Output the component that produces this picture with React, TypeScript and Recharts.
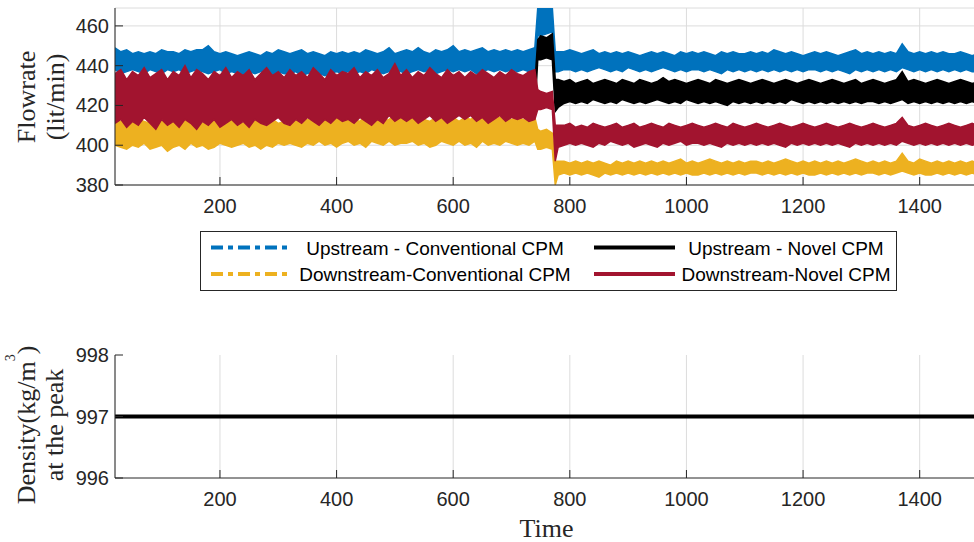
import React from 'react';
import { ComposedChart, LineChart, Line, Area, XAxis, YAxis, CartesianGrid } from 'recharts';

const time = [
  20, 30, 40, 50, 60, 70, 80, 90, 100, 110,
  120, 130, 140, 150, 160, 170, 180, 190, 200, 210,
  220, 230, 240, 250, 260, 270, 280, 290, 300, 310,
  320, 330, 340, 350, 360, 370, 380, 390, 400, 410,
  420, 430, 440, 450, 460, 470, 480, 490, 500, 510,
  520, 530, 540, 550, 560, 570, 580, 590, 600, 610,
  620, 630, 640, 650, 660, 670, 680, 690, 700, 710,
  720, 730, 740, 745, 750, 760, 770, 775, 780, 790, 800, 810,
  820, 830, 840, 850, 860, 870, 880, 890, 900, 910,
  920, 930, 940, 950, 960, 970, 980, 990, 1000, 1010,
  1020, 1030, 1040, 1050, 1060, 1070, 1080, 1090, 1100, 1110,
  1120, 1130, 1140, 1150, 1160, 1170, 1180, 1190, 1200, 1210,
  1220, 1230, 1240, 1250, 1260, 1270, 1280, 1290, 1300, 1310,
  1320, 1330, 1340, 1350, 1360, 1370, 1380, 1390, 1400, 1410,
  1420, 1430, 1440, 1450, 1460, 1470, 1480, 1490, 1500,
];

// upper / lower envelope of each noisy flowrate trace (lit/min)
const upConvHi = [
  449, 447, 448, 446, 447, 446, 447, 446, 448, 447,
  447, 446, 448, 447, 448, 448, 450, 447, 446, 447,
  446, 445, 446, 447, 446, 445, 447, 446, 448, 447,
  446, 447, 448, 446, 447, 446, 445, 447, 446, 447,
  446, 447, 446, 448, 447, 446, 447, 449, 446, 447,
  448, 447, 449, 447, 446, 448, 447, 448, 450, 447,
  448, 447, 448, 449, 447, 448, 447, 448, 447, 448,
  447, 448, 449, 469, 469, 469, 469, 447, 447, 447, 448, 447,
  446, 447, 448, 446, 447, 446, 447, 446, 447, 446,
  445, 446, 447, 446, 447, 446, 445, 447, 446, 447,
  446, 447, 446, 445, 447, 446, 447, 446, 446, 447,
  446, 447, 446, 448, 447, 446, 447, 446, 445, 446,
  447, 446, 447, 446, 445, 446, 447, 448, 446, 447,
  446, 447, 446, 447, 446, 451, 447, 446, 447, 446,
  447, 446, 447, 446, 446, 447, 446, 445, 446,
];
const upConvLo = [
  438, 436, 437, 438, 437, 436, 438, 437, 436, 438,
  437, 438, 436, 437, 438, 437, 436, 437, 438, 436,
  437, 436, 435, 437, 436, 437, 436, 435, 437, 436,
  436, 437, 435, 436, 437, 436, 435, 436, 437, 436,
  437, 436, 437, 436, 438, 437, 436, 437, 438, 437,
  436, 437, 438, 437, 438, 436, 437, 438, 437, 438,
  437, 438, 436, 437, 438, 437, 438, 437, 438, 437,
  438, 437, 438, 455, 455, 456, 457, 437, 437, 438, 438, 437,
  438, 437, 438, 439, 438, 437, 438, 437, 439, 438,
  437, 438, 437, 438, 439, 438, 437, 438, 437, 438,
  438, 437, 438, 437, 436, 438, 437, 438, 437, 438,
  437, 438, 437, 438, 437, 438, 437, 438, 437, 438,
  438, 437, 438, 437, 438, 437, 436, 438, 437, 438,
  437, 438, 437, 438, 437, 439, 438, 437, 438, 437,
  438, 437, 438, 437, 438, 437, 438, 437, 437,
];

const upNovelHi = [
  430, 428, 431, 429, 430, 428, 431, 429, 430, 428,
  429, 431, 428, 430, 429, 431, 428, 430, 429, 431,
  430, 429, 431, 428, 430, 429, 428, 431, 430, 429,
  428, 430, 429, 431, 428, 430, 431, 429, 428, 430,
  431, 429, 430, 428, 431, 429, 430, 428, 431, 429,
  430, 428, 431, 429, 430, 428, 429, 431, 430, 428,
  429, 431, 428, 430, 429, 431, 430, 428, 429, 431,
  430, 429, 431, 453, 455, 454, 456, 433, 433, 432, 433, 431,
  432, 433, 431, 432, 433, 432, 431, 433, 432, 431,
  433, 432, 431, 432, 434, 432, 433, 432, 431, 432,
  433, 432, 431, 433, 432, 431, 432, 433, 432, 431,
  432, 433, 432, 431, 432, 433, 432, 431, 432, 433,
  432, 431, 432, 433, 432, 431, 432, 433, 431, 432,
  433, 432, 431, 432, 433, 437, 432, 433, 432, 431,
  432, 433, 432, 431, 432, 433, 432, 431, 432,
];
const upNovelLo = [
  418, 420, 417, 419, 418, 420, 417, 419, 418, 420,
  419, 417, 420, 418, 419, 417, 420, 418, 419, 417,
  420, 418, 417, 419, 420, 418, 419, 417, 420, 418,
  417, 419, 420, 418, 417, 419, 418, 420, 417, 419,
  418, 420, 419, 417, 418, 420, 417, 419, 418, 420,
  419, 417, 418, 420, 419, 417, 420, 418, 419, 417,
  420, 418, 419, 417, 420, 418, 417, 419, 420, 418,
  418, 419, 417, 443, 443, 444, 443, 417, 419, 421, 422, 421,
  422, 421, 423, 422, 421, 422, 421, 423, 422, 421,
  422, 421, 422, 423, 422, 421, 422, 421, 423, 422,
  421, 422, 421, 422, 421, 420, 422, 421, 422, 421,
  422, 421, 422, 421, 422, 421, 423, 422, 421, 422,
  421, 422, 421, 422, 421, 422, 421, 422, 421, 422,
  422, 421, 422, 421, 422, 423, 421, 422, 421, 422,
  421, 422, 421, 422, 421, 422, 421, 422, 421,
];

const downConvHi = [
  413, 412, 414, 411, 413, 412, 411, 413, 412, 414,
  412, 411, 413, 412, 414, 411, 412, 413, 411, 412,
  413, 412, 411, 413, 412, 414, 412, 413, 411, 412,
  413, 412, 414, 413, 412, 414, 413, 412, 414, 413,
  414, 413, 412, 415, 413, 414, 412, 413, 415, 414,
  413, 415, 414, 413, 412, 414, 415, 413, 414, 412,
  414, 413, 415, 414, 412, 413, 414, 412, 413, 414,
  413, 412, 414, 408, 407, 408, 406, 392, 392, 392, 391, 392,
  391, 392, 391, 392, 391, 390, 392, 391, 392, 391,
  392, 391, 392, 391, 392, 391, 392, 393, 391, 392,
  391, 392, 393, 392, 391, 392, 391, 392, 391, 392,
  392, 391, 392, 391, 392, 393, 392, 391, 392, 391,
  392, 391, 392, 391, 392, 391, 392, 393, 392, 391,
  392, 391, 392, 391, 392, 396, 392, 391, 393, 392,
  391, 392, 391, 392, 391, 392, 391, 392, 391,
];
const downConvLo = [
  400, 399, 398, 400, 399, 401, 398, 399, 400, 397,
  399, 400, 398, 401, 399, 400, 398, 399, 401, 400,
  399, 400, 401, 399, 400, 398, 400, 399, 401, 400,
  401, 400, 399, 401, 400, 402, 400, 401, 399, 401,
  402, 400, 401, 399, 402, 401, 400, 402, 400, 401,
  401, 402, 400, 401, 399, 400, 402, 401, 400, 402,
  400, 401, 399, 402, 400, 401, 400, 402, 401, 400,
  401, 400, 402, 398, 398, 399, 398, 380, 385, 386, 385, 386,
  385, 386, 385, 384, 386, 385, 386, 385, 386, 385,
  386, 385, 386, 385, 386, 385, 386, 385, 386, 385,
  385, 386, 385, 386, 385, 386, 385, 386, 385, 386,
  386, 385, 386, 385, 386, 385, 386, 385, 386, 385,
  385, 386, 385, 386, 385, 386, 385, 386, 385, 386,
  386, 385, 386, 385, 386, 387, 386, 385, 386, 385,
  385, 386, 385, 386, 385, 386, 385, 386, 385,
];

const downNovelHi = [
  436, 438, 433, 437, 435, 439, 434, 436, 438, 433,
  437, 435, 440, 434, 438, 436, 433, 437, 435, 439,
  434, 437, 435, 438, 433, 436, 439, 435, 437, 434,
  438, 435, 437, 434, 439, 436, 433, 438, 435, 437,
  436, 439, 434, 437, 435, 438, 434, 436, 441, 435,
  438, 434, 437, 435, 439, 436, 434, 438, 435, 437,
  434, 437, 435, 438, 436, 434, 437, 435, 438, 436,
  435, 437, 438, 428, 427, 426, 427, 410, 410, 410, 411, 409,
  410, 409, 411, 410, 409, 410, 411, 409, 410, 411,
  409, 410, 411, 410, 409, 411, 410, 409, 410, 411,
  410, 409, 410, 411, 410, 409, 411, 410, 409, 410,
  411, 410, 409, 410, 411, 410, 409, 410, 411, 410,
  409, 410, 411, 410, 409, 410, 411, 410, 409, 410,
  411, 410, 409, 410, 411, 414, 410, 409, 410, 411,
  410, 409, 410, 411, 410, 409, 410, 411, 410,
];
const downNovelLo = [
  411, 413, 409, 412, 410, 414, 411, 408, 413, 410,
  412, 409, 413, 411, 408, 412, 410, 413, 409, 411,
  413, 410, 412, 409, 413, 411, 410, 412, 414, 411,
  410, 413, 411, 414, 412, 410, 413, 411, 414, 412,
  413, 411, 414, 412, 410, 413, 411, 415, 412, 414,
  412, 414, 411, 413, 415, 412, 414, 411, 413, 415,
  413, 415, 412, 414, 411, 413, 415, 412, 414, 413,
  414, 412, 413, 418, 418, 419, 418, 392, 399, 400, 401, 400,
  401, 400, 399, 401, 400, 402, 401, 400, 401, 399,
  400, 401, 400, 399, 401, 400, 401, 402, 400, 401,
  401, 400, 401, 400, 399, 401, 400, 401, 400, 401,
  400, 401, 400, 401, 400, 399, 401, 400, 401, 400,
  401, 400, 401, 400, 401, 400, 399, 401, 400, 401,
  400, 401, 400, 401, 400, 402, 401, 400, 401, 400,
  401, 400, 401, 400, 401, 400, 401, 400, 401,
];

const densityTime = [20, 1500];
const densityValues = [997, 997];

const timeTicks = [200, 400, 600, 800, 1000, 1200, 1400];
const flowTicks = [380, 400, 420, 440, 460];
const densityTicks = [996, 997, 998];

const seriesKeys = ['upConv', 'upNovel', 'downConv', 'downNovel'];
const seriesNames = [
  'Upstream - Conventional CPM',
  'Upstream - Novel CPM',
  'Downstream-Conventional CPM',
  'Downstream-Novel CPM',
];
const seriesColors = ['#0072BD', '#000000', '#EDB120', '#A2142F'];
const seriesDashed = [true, false, true, false];

const flowData = time.map((t, i) => ({
  t,
  upConv: [upConvLo[i], upConvHi[i]],
  upNovel: [upNovelLo[i], upNovelHi[i]],
  downConv: [downConvLo[i], downConvHi[i]],
  downNovel: [downNovelLo[i], downNovelHi[i]],
}));

const densityData = densityTime.map((t, i) => ({ t, d: densityValues[i] }));

const AXIS = '#262626';
const GRID = '#dcdcdc';
const SANS = '"Liberation Sans", Arial, Helvetica, sans-serif';
const SERIF = '"Liberation Serif", "Times New Roman", serif';
const TICK_LEN = 8;

const bottomTick = ({ x, y, payload }: any) => (
  <g>
    <line x1={x} x2={x} y1={y} y2={y - TICK_LEN} stroke={AXIS} />
    <text x={x} y={y + 28} textAnchor="middle" fill={AXIS} fontSize={20} fontFamily={SANS}>
      {payload.value}
    </text>
  </g>
);

const topTick = ({ x, y }: any) => (
  <line x1={x} x2={x} y1={y} y2={y + TICK_LEN} stroke={AXIS} />
);

const leftTick = ({ x, y, payload }: any) => (
  <g>
    <line x1={x} x2={x + TICK_LEN} y1={y} y2={y} stroke={AXIS} />
    <text x={x - 6} y={y + 7} textAnchor="end" fill={AXIS} fontSize={20} fontFamily={SANS}>
      {payload.value}
    </text>
  </g>
);

const rightTick = ({ x, y }: any) => (
  <line x1={x} x2={x - TICK_LEN} y1={y} y2={y} stroke={AXIS} />
);

// shared axis frame: labelled bottom/left, tick-only top/right
function frameAxes(domain: number[], yTicks: number[], xHeight: number) {
  const common = {
    type: 'number' as const,
    interval: 0 as const,
    allowDataOverflow: true,
    axisLine: { stroke: AXIS },
    tickLine: false,
    tickSize: 0,
    tickMargin: 0,
  };
  return [
    <XAxis key="xb" {...common} dataKey="t" domain={[20, 1500]} ticks={timeTicks} height={xHeight} tick={bottomTick} />,
    <XAxis key="xt" {...common} xAxisId="top" orientation="top" dataKey="t" domain={[20, 1500]} ticks={timeTicks} height={0} tick={topTick} />,
    <YAxis key="yl" {...common} domain={domain} ticks={yTicks} width={115} tick={leftTick} />,
    <YAxis key="yr" {...common} yAxisId="right" orientation="right" domain={domain} ticks={yTicks} width={0} tick={rightTick} />,
  ];
}

function LegendBox() {
  const cols = [0, 383];
  const rows = [16.5, 43];
  return (
    <svg width={697} height={60} style={{ position: 'absolute', left: 200, top: 231 }}>
      <rect x={0.5} y={0.5} width={696} height={59} fill="#fff" stroke={AXIS} />
      {seriesNames.map((name, i) => {
        const cx = cols[i % 2];
        const cy = rows[Math.floor(i / 2)];
        return (
          <g key={name}>
            <line
              x1={cx + 11}
              x2={cx + 92}
              y1={cy}
              y2={cy}
              stroke={seriesColors[i]}
              strokeWidth={4}
              strokeDasharray={seriesDashed[i] ? '12 5 5 5' : undefined}
            />
            <text
              x={cx + (i % 2 === 0 ? 235 : 203)}
              y={cy + 7}
              textAnchor="middle"
              fontSize={19}
              fontFamily={SANS}
              fill="#000"
            >
              {name}
            </text>
          </g>
        );
      })}
    </svg>
  );
}

function Titles() {
  const title = { fontSize: 26, fontFamily: SERIF, fill: AXIS, textAnchor: 'middle' as const };
  return (
    <svg
      width={974}
      height={542}
      style={{ position: 'absolute', left: 0, top: 0, pointerEvents: 'none' }}
    >
      <text {...title} x={35} y={97} transform="rotate(-90 35 97)">Flowrate</text>
      <text {...title} x={64} y={97} transform="rotate(-90 64 97)">(lit/min)</text>
      <text {...title} x={35} y={425} transform="rotate(-90 35 425)">
        Density(kg/m
        <tspan dy={-20} fontSize={14}>3</tspan>
        <tspan dy={20}>)</tspan>
      </text>
      <text {...title} x={63} y={425} transform="rotate(-90 63 425)">at the peak</text>
      <text {...title} x={546.5} y={537}>Time</text>
    </svg>
  );
}

export default function App() {
  return (
    <div
      style={{
        position: 'absolute',
        left: 0,
        top: 0,
        width: 974,
        height: 542,
        background: '#fff',
        overflow: 'hidden',
      }}
    >
      <div style={{ position: 'absolute', left: 0, top: 0 }}>
        <ComposedChart
          width={974}
          height={225}
          data={flowData}
          margin={{ top: 8, right: -4, bottom: 0, left: 0 }}
        >
          <CartesianGrid stroke={GRID} />
          {frameAxes([380, 469], flowTicks, 40)}
          {seriesKeys.map((key, i) => (
            <Area
              key={key}
              type="linear"
              dataKey={key}
              stroke={seriesColors[i]}
              strokeWidth={1.5}
              fill={seriesColors[i]}
              fillOpacity={1}
              dot={false}
              activeDot={false}
              isAnimationActive={false}
            />
          ))}
        </ComposedChart>
      </div>

      <LegendBox />

      <div style={{ position: 'absolute', left: 0, top: 340 }}>
        <LineChart
          width={974}
          height={202}
          data={densityData}
          margin={{ top: 15, right: -4, bottom: 0, left: 0 }}
        >
          <CartesianGrid stroke={GRID} horizontal={false} />
          {frameAxes([996, 998], densityTicks, 64)}
          <Line
            type="linear"
            dataKey="d"
            stroke="#000"
            strokeWidth={4}
            dot={false}
            activeDot={false}
            isAnimationActive={false}
          />
        </LineChart>
      </div>

      <Titles />
    </div>
  );
}
